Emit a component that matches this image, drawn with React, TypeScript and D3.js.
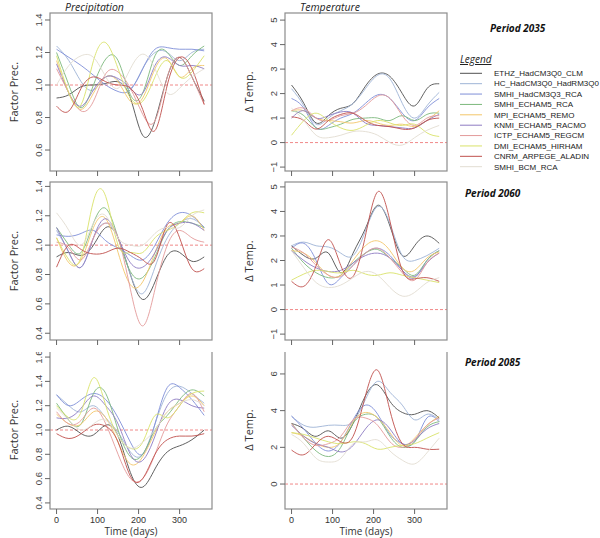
import * as React from 'react';
import * as d3 from 'd3';

const W = 600;
const H = 538;

// sample days for every series
const days = [0, 30, 60, 90, 120, 150, 180, 210, 240, 270, 300, 330, 360];

const models = [
  'ETHZ_HadCM3Q0_CLM',
  'HC_HadCM3Q0_HadRM3Q0',
  'SMHI_HadCM3Q3_RCA',
  'SMHI_ECHAM5_RCA',
  'MPI_ECHAM5_REMO',
  'KNMI_ECHAM5_RACMO',
  'ICTP_ECHAM5_REGCM',
  'DMI_ECHAM5_HIRHAM',
  'CNRM_ARPEGE_ALADIN',
  'SMHI_BCM_RCA',
];

const colors = [
  '#505050',
  '#9fb4d6',
  '#7f8fd8',
  '#7cb87c',
  '#f3c76a',
  '#8e7cc3',
  '#e39a9a',
  '#d9e26a',
  '#c0504d',
  '#e2ddd2',
];

const precip2035 = [
  [0.92, 0.94, 0.99, 1.0, 1.01, 1.02, 0.92, 0.69, 0.78, 1.05, 1.17, 1.05, 0.9],
  [1.24, 1.15, 1.02, 0.97, 1.05, 1.03, 0.98, 1.1, 1.2, 1.2, 1.15, 1.2, 1.22],
  [1.22, 1.17, 1.12, 1.06, 1.0, 0.96, 0.97, 1.1, 1.22, 1.23, 1.22, 1.22, 1.21],
  [1.2, 1.0, 0.86, 1.0, 1.16, 1.15, 0.94, 0.95, 1.18, 1.2, 1.12, 1.18, 1.24],
  [1.15, 0.95, 0.85, 0.95, 1.05, 1.02, 0.9, 0.92, 1.1, 1.16, 1.05, 1.1, 1.12],
  [1.13, 0.95, 0.87, 0.97, 1.05, 1.04, 0.98, 0.95, 1.12, 1.17, 1.12, 1.12, 1.1],
  [1.1, 0.95, 0.84, 0.9, 1.07, 1.08, 0.98, 0.82, 0.78, 1.05, 1.17, 1.05, 0.88],
  [1.18, 0.95, 0.88, 1.15, 1.26, 1.1, 0.92, 0.9, 1.05, 1.15, 1.05, 1.08, 1.18],
  [0.87, 0.84, 0.98, 1.05, 1.02, 1.0, 0.98, 0.85, 0.72, 1.0, 1.17, 1.1, 0.88],
  [1.0, 1.12, 1.18, 1.17, 1.05, 0.98, 1.1, 1.19, 1.1, 0.95, 0.98, 1.05, 1.1],
];

const temp2035 = [
  [2.35, 1.6, 0.8, 1.1, 1.4, 1.6, 2.3, 2.8, 2.7, 2.0, 1.5, 2.2, 2.4],
  [2.2, 1.5, 0.75, 1.0, 1.3, 1.6, 2.2, 2.75, 2.6, 1.6, 1.0, 1.5, 2.05],
  [1.8, 1.4, 0.6, 0.7, 1.0, 1.2, 1.6, 1.95, 1.8, 1.2, 0.9, 1.4, 1.8],
  [1.3, 1.1, 0.6, 0.6, 0.75, 0.95, 1.0, 1.0, 0.9, 1.1, 0.9, 1.15, 1.2],
  [1.3, 1.3, 1.0, 0.9, 0.85, 0.8, 0.9, 0.8, 0.7, 0.75, 0.65, 0.9, 1.3],
  [1.0, 1.3, 1.0, 1.1, 1.25, 1.2, 0.8, 0.7, 0.65, 0.6, 0.6, 0.9, 1.15],
  [1.3, 1.4, 1.0, 0.9, 1.1, 1.2, 1.5, 1.9, 1.8, 1.1, 0.7, 1.0, 1.1],
  [0.3, 0.9, 1.2, 0.9, 0.6, 0.5, 0.7, 0.9, 0.8, 0.7, 0.75, 0.4, 0.25],
  [1.05, 0.9, 0.55, 0.9, 1.15, 1.2, 0.9, 0.7, 0.65, 0.55, 0.6, 0.9, 1.0],
  [1.4, 0.9, 0.3, 0.2, 0.3, 0.45, 0.45, 0.3, 0.0, -0.1, 0.2, 0.5, 0.7],
];

const precip2060 = [
  [0.92, 0.95, 0.93, 1.0, 1.12, 1.05, 0.8, 0.63, 0.75, 0.93, 0.95, 0.89, 0.92],
  [1.1, 0.95, 0.85, 1.05, 1.15, 1.05, 0.8, 0.67, 0.85, 1.05, 1.15, 1.18, 1.12],
  [1.07, 1.06, 1.08, 1.1, 1.03, 0.98, 0.93, 0.9, 1.0, 1.15, 1.22, 1.2, 1.12],
  [1.12, 1.0, 0.95, 1.15, 1.25, 1.05, 0.82, 0.78, 0.92, 1.1, 1.16, 1.15, 1.12],
  [1.05, 0.88, 0.9, 1.12, 1.18, 0.95, 0.73, 0.75, 0.95, 1.12, 1.15, 1.2, 1.1],
  [1.12, 0.95, 0.85, 1.05, 1.18, 1.05, 0.88, 0.85, 0.95, 1.1, 1.15, 1.15, 1.1],
  [1.02, 0.98, 0.9, 1.05, 1.15, 1.05, 0.7, 0.45, 0.7, 1.0, 1.1, 1.05, 1.02],
  [1.05, 0.9, 0.92, 1.3, 1.33, 1.0, 0.95, 0.95, 1.05, 1.1, 1.15, 1.22, 1.22],
  [0.85, 1.0, 0.97, 0.94, 0.95, 0.98, 0.95, 0.9, 0.9, 1.14, 1.05, 0.84, 0.84],
  [1.22, 1.1, 1.0, 1.15, 1.2, 1.05, 1.0, 1.0, 1.08, 1.12, 1.12, 1.2, 1.24],
];

const temp2060 = [
  [2.6, 2.2, 2.1, 2.3, 1.5, 2.3, 3.3, 4.25, 3.4, 2.2, 2.6, 3.0, 2.7],
  [2.6, 2.75, 2.6, 2.55, 2.3, 2.2, 3.2, 4.2, 3.5, 2.2, 2.0, 2.2, 2.5],
  [2.5, 2.7, 2.0, 1.05, 1.3, 1.8, 2.3, 2.5, 2.2, 1.6, 1.3, 2.0, 2.4],
  [2.5, 1.9, 1.5, 1.3, 1.4, 1.9, 2.3, 2.45, 2.1, 1.7, 1.4, 2.0, 2.4],
  [2.4, 2.3, 1.9, 1.4, 1.4, 2.0, 2.6, 2.8, 2.4, 1.7, 1.6, 2.1, 2.35],
  [2.4, 2.0, 1.7, 1.55, 1.6, 1.9, 2.2, 2.3, 2.1, 1.6, 1.35, 1.9, 2.3],
  [2.55, 2.3, 1.8, 1.4, 1.35, 1.8, 2.3, 2.5, 2.1, 1.5, 1.2, 1.9, 2.3],
  [1.2, 1.45, 1.6, 1.55, 1.5, 1.6, 1.45, 1.4, 1.5, 1.4, 1.3, 1.2, 1.1],
  [1.15, 0.95, 1.8, 2.85, 1.8, 1.35, 3.0, 4.8, 3.6, 1.6, 1.25, 1.3, 1.15],
  [2.4, 1.7, 1.1, 0.9, 1.0, 1.3, 1.55, 1.4, 0.9, 0.55, 0.7, 1.1, 1.3],
];

const precip2085 = [
  [1.0, 1.03, 0.97, 0.96, 1.04, 0.95, 0.65, 0.53, 0.68, 0.82, 0.87, 0.92, 1.0],
  [1.29, 1.2, 1.15, 1.2, 1.1, 0.98, 0.82, 0.8, 1.05, 1.3, 1.36, 1.3, 1.22],
  [1.29, 1.2, 1.25, 1.3, 1.25, 1.1, 0.9, 0.8, 1.05, 1.35, 1.35, 1.25, 1.12],
  [1.22, 1.08, 1.05, 1.3, 1.3, 1.0, 0.78, 0.8, 1.0, 1.12, 1.25, 1.33, 1.28],
  [1.13, 1.05, 1.05, 1.15, 1.1, 0.9, 0.72, 0.78, 0.98, 1.15, 1.22, 1.28, 1.2],
  [1.1, 1.1, 1.18, 1.28, 1.2, 1.05, 0.8, 0.75, 0.95, 1.2, 1.25, 1.2, 1.18],
  [1.15, 1.05, 1.08, 1.18, 1.05, 0.8, 0.6, 0.6, 0.8, 1.05, 1.2, 1.3, 1.15],
  [1.2, 1.1, 1.15, 1.43, 1.2, 0.95, 0.85, 0.9, 1.12, 1.1, 1.2, 1.3, 1.32],
  [0.97, 0.93, 0.97, 1.04, 1.03, 0.9, 0.62, 0.6, 0.8, 0.92, 0.95, 0.95, 0.97],
  [1.18, 1.08, 1.0, 1.05, 1.08, 0.95, 0.85, 0.9, 1.0, 1.15, 1.22, 1.25, 1.2],
];

const temp2085 = [
  [3.3, 3.0, 2.6, 2.9, 2.5, 3.3, 4.8, 5.4, 4.5, 3.9, 3.8, 4.0, 3.6],
  [3.7, 3.2, 3.1, 3.2, 3.2, 3.4, 4.6, 5.6, 5.0, 4.3, 3.5, 3.8, 3.5],
  [3.7, 3.0, 2.2, 1.8, 2.3, 3.5, 4.3, 3.8, 2.7, 2.2, 2.3, 3.6, 3.4],
  [3.3, 2.5, 1.8, 1.5, 2.0, 3.3, 3.8, 3.6, 2.6, 2.0, 2.3, 3.1, 3.4],
  [2.8, 2.6, 2.2, 2.0, 2.3, 3.4, 3.9, 3.6, 2.8, 2.1, 2.5, 3.2, 3.7],
  [3.2, 2.6, 2.2, 2.0, 1.75, 2.1, 3.0, 3.5, 3.0, 2.2, 2.4, 3.0, 3.3],
  [3.3, 2.5, 2.1, 2.2, 2.6, 3.5, 3.6, 3.2, 2.3, 2.0, 2.4, 3.2, 3.6],
  [2.8, 2.7, 2.5, 2.3, 2.2, 2.3, 2.2, 1.9, 2.0, 2.1, 2.2, 2.5, 2.8],
  [1.85, 1.6, 2.2, 2.6, 2.3, 2.6, 4.8, 6.2, 4.0, 2.2, 2.0, 1.9, 1.9],
  [2.7, 2.2, 1.4, 1.2, 1.4, 2.2, 2.3, 2.4, 1.8, 1.3, 1.1, 1.7, 2.5],
];

const xTicks = [0, 100, 200, 300];
const precipTicks2035 = [0.6, 0.8, 1.0, 1.2, 1.4];
const precipTicks2060 = [0.4, 0.6, 0.8, 1.0, 1.2, 1.4];
const precipTicks2085 = [0.4, 0.6, 0.8, 1.0, 1.2, 1.4, 1.6];
const tempTicks = [-1, 0, 1, 2, 3, 4, 5];
const tempTicks2085 = [0, 2, 4, 6];
const periods = ['Period 2035', 'Period 2060', 'Period 2085'];

const cols = [
  { x0: 50, x1: 212 },
  { x0: 285, x1: 447 },
];
const rows = [
  { y0: 13, y1: 171, clip: 0 },
  { y0: 182, y1: 340, clip: 181 },
  { y0: 351, y1: 509, clip: 352 },
];

const panels = [
  { row: 0, col: 0, data: precip2035, domain: [0.471, 1.443], ticks: precipTicks2035, ref: 1, fmt: '.1f' },
  { row: 0, col: 1, data: temp2035, domain: [-1.16, 5.29], ticks: tempTicks, ref: 0, fmt: 'd' },
  { row: 1, col: 0, data: precip2060, domain: [0.354, 1.43], ticks: precipTicks2060, ref: 1, fmt: '.1f' },
  { row: 1, col: 1, data: temp2060, domain: [-1.24, 5.2], ticks: tempTicks, ref: 0, fmt: 'd' },
  { row: 2, col: 0, data: precip2085, domain: [0.35, 1.65], ticks: precipTicks2085, ref: 1, fmt: '.1f' },
  { row: 2, col: 1, data: temp2085, domain: [-1.36, 7.25], ticks: tempTicks2085, ref: 0, fmt: 'd' },
];

const tickFont = '"Liberation Sans", Arial, sans-serif';
const textFont = '"Open Sans", "DejaVu Sans", sans-serif';

const Panel: React.FC<{ p: (typeof panels)[number]; last: boolean }> = ({ p, last }) => {
  const { x0, x1 } = cols[p.col];
  const { y0, y1 } = rows[p.row];
  const x = d3.scaleLinear([-16, 379], [x0, x1]);
  const y = d3.scaleLinear(p.domain, [y1, y0]);
  const fmt = d3.format(p.fmt);
  const line = d3
    .line<number>()
    .x((_, i) => x(days[i]))
    .y((v) => y(v))
    .curve(d3.curveNatural);
  const clipId = `clip-${p.row}-${p.col}`;

  return (
    <g>
      <clipPath id={clipId}>
        <rect x={x0} y={y0} width={x1 - x0} height={y1 - y0} />
      </clipPath>
      <g clipPath={`url(#${clipId})`}>
        <line
          x1={x0}
          x2={x1}
          y1={y(p.ref)}
          y2={y(p.ref)}
          stroke="#ee7b7b"
          strokeWidth={0.9}
          strokeDasharray="3,2"
        />
        {p.data.map((s, i) => (
          <path
            key={models[i]}
            d={line(s) ?? ''}
            fill="none"
            stroke={colors[i]}
            strokeWidth={1}
            strokeOpacity={0.9}
          />
        ))}
      </g>
      <rect x={x0} y={y0} width={x1 - x0} height={y1 - y0} fill="none" stroke="#8c8c8c" strokeWidth={1.2} />
      {xTicks.map((t) => (
        <g key={t}>
          <line x1={x(t)} x2={x(t)} y1={y1} y2={y1 + 5} stroke="#666" />
          {last && (
            <text x={x(t)} y={y1 + 14} textAnchor="middle" fontFamily={tickFont} fontSize={9} fill="#333">
              {t}
            </text>
          )}
        </g>
      ))}
      {p.ticks.map((t) => (
        <g key={t}>
          <line x1={x0 - 5} x2={x0} y1={y(t)} y2={y(t)} stroke="#666" />
          <text
            transform={`translate(${x0 - 8},${y(t)}) rotate(-90)`}
            textAnchor="middle"
            fontFamily={tickFont}
            fontSize={9.5}
            fill="#444"
          >
            {fmt(t)}
          </text>
        </g>
      ))}
      <text
        transform={`translate(${x0 - 32},${(y0 + y1) / 2}) rotate(-90)`}
        textAnchor="middle"
        fontFamily={textFont}
        fontSize={11}
        fill="#333"
      >
        {p.col === 0 ? 'Factor Prec.' : '\u0394 Temp.'}
      </text>
    </g>
  );
};

const App: React.FC = () => {
  const legendY = d3.scaleLinear([0, models.length - 1], [73.3, 166.7]);
  return (
    <svg
      width={W}
      height={H}
      viewBox={`0 0 ${W} ${H}`}
      style={{ position: 'absolute', left: 0, top: 0, background: '#fff' }}
    >
      {rows.map((r, ri) => (
        <g key={ri}>
          <clipPath id={`row-${ri}`}>
            <rect x={0} y={r.clip} width={W} height={H - r.clip} />
          </clipPath>
          <g clipPath={`url(#row-${ri})`}>
            {panels
              .filter((p) => p.row === ri)
              .map((p) => (
                <Panel key={`${p.row}-${p.col}`} p={p} last={ri === rows.length - 1} />
              ))}
          </g>
        </g>
      ))}
      <text x={65} y={11} fontFamily={textFont} fontStyle="italic" fontSize={10.5} fill="#222">
        Precipitation
      </text>
      <text x={300} y={11} fontFamily={textFont} fontStyle="italic" fontSize={10.5} fill="#222">
        Temperature
      </text>
      <text x={131} y={535} textAnchor="middle" fontFamily={textFont} fontSize={10} fill="#333">
        Time (days)
      </text>
      <text x={366} y={535} textAnchor="middle" fontFamily={textFont} fontSize={10} fill="#333">
        Time (days)
      </text>
      {periods.map((t, i) => (
        <text
          key={t}
          x={i === 0 ? 490 : 465}
          y={i === 0 ? 32 : rows[i].y0 + 15}
          fontFamily={textFont}
          fontStyle="italic"
          fontWeight="bold"
          fontSize={10}
          fill="#111"
        >
          {t}
        </text>
      ))}
      <text x={460} y={63} fontFamily={textFont} fontStyle="italic" fontSize={10} fill="#222" textDecoration="underline">
        Legend
      </text>
      {models.map((m, i) => (
        <g key={m}>
          <line x1={460} x2={482} y1={legendY(i)} y2={legendY(i)} stroke={colors[i]} strokeWidth={1} />
          <text x={494} y={legendY(i) + 2.8} fontFamily={tickFont} fontSize={8} fill="#222">
            {m}
          </text>
        </g>
      ))}
    </svg>
  );
};

export default App;
